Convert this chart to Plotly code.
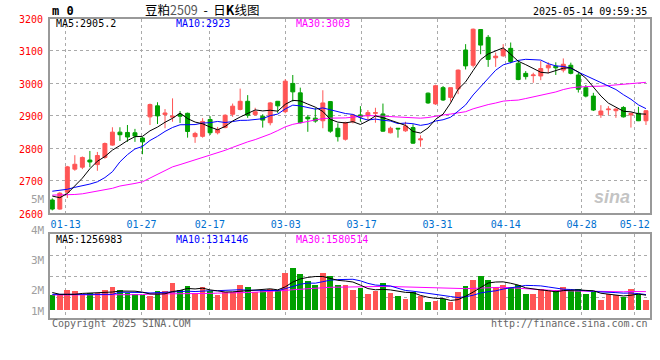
import plotly.graph_objects as go
import pandas as pd

# ---------------- data ----------------
dates = ["01-09", "01-10", "01-13", "01-14", "01-15", "01-16", "01-17", "01-20", "01-21", "01-22",
         "01-23", "01-24", "01-27", "02-05", "02-06", "02-07", "02-10", "02-11", "02-12", "02-13",
         "02-14", "02-17", "02-18", "02-19", "02-20", "02-21", "02-24", "02-25", "02-26", "02-27",
         "02-28", "03-03", "03-04", "03-05", "03-06", "03-07", "03-10", "03-11", "03-12", "03-13",
         "03-14", "03-17", "03-18", "03-19", "03-20", "03-21", "03-24", "03-25", "03-26", "03-27",
         "03-28", "03-31", "04-01", "04-02", "04-03", "04-07", "04-08", "04-09", "04-10", "04-11",
         "04-14", "04-15", "04-16", "04-17", "04-18", "04-21", "04-22", "04-23", "04-24", "04-25",
         "04-28", "04-29", "04-30", "05-06", "05-07", "05-08", "05-09", "05-12", "05-13", "05-14"]

opens = [2641, 2613, 2665, 2736, 2742, 2764, 2750, 2772, 2810, 2850,
         2849, 2848, 2832, 2897, 2931, 2904, 2896, 2905, 2908, 2836,
         2837, 2889, 2848, 2864, 2905, 2920, 2945, 2904, 2899, 2879,
         2945, 2913, 3000, 2971, 2896, 2893, 2885, 2944, 2862, 2828,
         2882, 2903, 2900, 2908, 2906, 2848, 2862, 2854, 2864, 2826,
         2970, 2937, 2987, 2957, 2983, 3103, 3056, 3166, 3142, 3079,
         3085, 3108, 3062, 3031, 3024, 3023, 3048, 3053, 3041, 3056,
         3026, 2987, 2961, 2903, 2919, 2916, 2926, 2903, 2908, 2885]
highs = [2646, 2665, 2746, 2779, 2775, 2792, 2789, 2818, 2865, 2865,
         2872, 2860, 2835, 2938, 2942, 2921, 2954, 2915, 2910, 2851,
         2893, 2899, 2866, 2905, 2938, 2984, 2964, 2925, 2905, 2943,
         2946, 3013, 3026, 2987, 2903, 2925, 2979, 2946, 2877, 2882,
         2905, 2930, 2918, 2925, 2938, 2867, 2862, 2882, 2874, 2840,
         2972, 2996, 2992, 2987, 3043, 3121, 3169, 3167, 3149, 3095,
         3121, 3126, 3072, 3038, 3033, 3069, 3065, 3065, 3077, 3064,
         3034, 2995, 2971, 2933, 2930, 2923, 2930, 2910, 2928, 2918]
lows = [2609, 2611, 2647, 2731, 2736, 2742, 2731, 2768, 2808, 2823,
        2820, 2820, 2782, 2872, 2875, 2862, 2882, 2878, 2833, 2817,
        2833, 2841, 2843, 2862, 2897, 2917, 2894, 2900, 2864, 2871,
        2909, 2908, 2944, 2877, 2851, 2879, 2862, 2848, 2821, 2824,
        2877, 2882, 2887, 2879, 2851, 2846, 2833, 2851, 2814, 2805,
        2937, 2934, 2946, 2944, 2967, 3043, 3049, 3090, 3051, 3051,
        3082, 3062, 3010, 3012, 3002, 3010, 3031, 3026, 3034, 3028,
        2972, 2957, 2915, 2894, 2903, 2894, 2895, 2864, 2884, 2872]
closes = [2613, 2662, 2743, 2751, 2772, 2758, 2778, 2815, 2850, 2842,
          2835, 2838, 2820, 2935, 2900, 2909, 2899, 2899, 2852, 2846,
          2883, 2848, 2858, 2902, 2930, 2945, 2902, 2913, 2887, 2940,
          2931, 3007, 2974, 2879, 2891, 2884, 2940, 2853, 2836, 2879,
          2903, 2897, 2910, 2910, 2853, 2862, 2860, 2869, 2816, 2829,
          2940, 2993, 2949, 2987, 3041, 3054, 3167, 3118, 3074, 3084,
          3105, 3067, 3012, 3021, 3026, 3046, 3056, 3048, 3059, 3031,
          2982, 2961, 2918, 2915, 2921, 2921, 2897, 2908, 2885, 2916]

# volume, in millions as read against the panel's scale labels
volumes = [1.86, 1.86, 2.00, 1.97, 1.86, 1.91, 1.91, 2.00, 2.10, 2.02,
           1.91, 1.89, 1.84, 1.80, 1.99, 1.97, 2.26, 2.02, 2.13, 1.91,
           2.10, 1.97, 1.86, 1.94, 1.94, 2.19, 2.10, 1.94, 2.02, 2.06,
           2.02, 2.59, 2.73, 2.55, 2.30, 2.17, 2.59, 2.46, 2.19, 2.19,
           2.00, 2.08, 1.89, 1.99, 2.26, 1.91, 1.83, 1.73, 1.95, 1.80,
           1.61, 1.64, 1.72, 1.62, 1.94, 2.16, 2.33, 2.49, 2.35, 2.10,
           2.19, 2.10, 2.19, 1.89, 1.89, 2.06, 1.97, 2.00, 2.10, 2.00,
           2.06, 1.89, 1.94, 1.69, 1.88, 1.84, 1.78, 2.06, 1.89, 1.69]

# moving-average values at the start of the window (need earlier history)
ma5_head = [2653, 2648, 2661, 2684]
ma10_head = [2668, 2670, 2674, 2680, 2684, 2690, 2697, 2710, 2728]
ma30_head = [2656, 2656, 2657, 2658, 2660, 2664, 2668, 2672, 2677, 2684,
             2687, 2692, 2697, 2708, 2720, 2730, 2743, 2750, 2757, 2765,
             2772, 2779, 2786, 2794, 2803, 2812, 2820, 2827, 2835]
vma5_head = [1.94, 1.88, 1.88, 1.88]
vma10_head = [1.88, 1.88, 1.88, 1.88, 1.88, 1.88, 1.88, 1.88, 1.88]
vma30_head = [1.86, 1.86, 1.86, 1.86, 1.86, 1.86, 1.86, 1.87, 1.87, 1.87,
              1.87, 1.87, 1.87, 1.89, 1.89, 1.89, 1.89, 1.89, 1.89, 1.89,
              1.91, 1.91, 1.92, 1.92, 1.93, 1.93, 1.94, 1.95, 1.96]

tick_dates = ["01-13", "01-27", "02-17", "03-03", "03-17", "03-31", "04-14", "04-28", "05-12"]
price_ticks = [2600, 2700, 2800, 2900, 3000, 3100, 3200]
vol_labels = ["5M", "4M", "3M", "2M", "1M"]
vol_label_values = [5, 4, 3, 2, 1]

legend_price = ["MA5:2905.2", "MA10:2923", "MA30:3003"]
legend_vol = ["MA5:1256983", "MA10:1314146", "MA30:1580514"]

# ---------------- styles ----------------
RED = "#ff5555"
GREEN = "#00a000"
BLUE = "#0000ff"
MAGENTA = "#ff00ff"
GRID = "#aaaaaa"
BORDER = "#999999"
MONO = "DejaVu Sans Mono"
W, H = 660, 360


def px(x):
    return x / W


def py(y):
    return 1 - y / H


def moving_average(values, window, head):
    s = pd.Series(values, dtype=float).rolling(window).mean()
    s.iloc[:len(head)] = head
    return s


idx = list(range(len(dates)))
ma5 = moving_average(closes, 5, ma5_head)
ma10 = moving_average(closes, 10, ma10_head)
ma30 = moving_average(closes, 30, ma30_head)
vma5 = moving_average(volumes, 5, vma5_head)
vma10 = moving_average(volumes, 10, vma10_head)
vma30 = moving_average(volumes, 30, vma30_head)

# the chart's date grid runs on a slightly wider step than the candles
tick_pos = [dates.index(d) * 1.0097 - 0.24 for d in tick_dates]

x_range = [-0.306, 79.47]
main_dom = [py(213.3), py(18.5)]
vol_dom = [py(318), py(234.3)]
vol_range = [1.099, 3.861]
vol_base = 1.34
vol_grid = [vol_range[0] + (vol_range[1] - vol_range[0]) * k / 4 for k in (1, 2, 3)]

fig = go.Figure()

fig.add_trace(go.Candlestick(
    x=idx, open=opens, high=highs, low=lows, close=closes,
    increasing=dict(line=dict(color=RED, width=1), fillcolor=RED),
    decreasing=dict(line=dict(color=GREEN, width=1), fillcolor=GREEN),
    whiskerwidth=0, xaxis="x", yaxis="y", showlegend=False, hoverinfo="skip"))

for series, color in ((ma30, MAGENTA), (ma10, BLUE), (ma5, "black")):
    fig.add_trace(go.Scatter(x=idx, y=series, mode="lines", line=dict(color=color, width=1),
                             xaxis="x", yaxis="y", showlegend=False, hoverinfo="skip"))

bar_colors = [RED if c >= o else GREEN for o, c in zip(opens, closes)]
fig.add_trace(go.Bar(x=idx, y=[v - vol_base for v in volumes], base=vol_base,
                     marker=dict(color=bar_colors, line=dict(width=0)), width=0.76,
                     xaxis="x2", yaxis="y2", showlegend=False, hoverinfo="skip"))
for series, color in ((vma30, MAGENTA), (vma10, BLUE), (vma5, "black")):
    fig.add_trace(go.Scatter(x=idx, y=series, mode="lines", line=dict(color=color, width=1),
                             xaxis="x2", yaxis="y2", showlegend=False, hoverinfo="skip"))

axis_common = dict(showgrid=True, gridcolor=GRID, griddash="dot", gridwidth=1,
                   showline=True, linecolor=BORDER, linewidth=2, mirror=True,
                   zeroline=False, ticks="", fixedrange=True, automargin=False)

fig.update_layout(
    width=W, height=H, margin=dict(l=0, r=0, t=0, b=0),
    paper_bgcolor="white", plot_bgcolor="white", bargap=0, boxgap=0.25,
    xaxis=dict(domain=[px(50), px(649.5)], range=x_range, anchor="y",
               tickmode="array", tickvals=tick_pos, ticktext=tick_dates,
               tickfont=dict(family=MONO, size=10, color="#0070d0"),
               rangeslider=dict(visible=False), ticklabelstandoff=1, **axis_common),
    yaxis=dict(domain=main_dom, range=[2600, 3200], anchor="x",
               tickmode="array", tickvals=price_ticks,
               tickfont=dict(family=MONO, size=10, color="#ff0000"),
               ticklabelstandoff=3, ticklabelshift=1, **axis_common),
    xaxis2=dict(domain=[px(50), px(649.5)], range=x_range, anchor="y2",
                tickmode="array", tickvals=tick_pos, showticklabels=False, **axis_common),
    yaxis2=dict(domain=vol_dom, range=vol_range, anchor="x2",
                tickmode="array", tickvals=vol_grid, showticklabels=False, **axis_common),
)

ann = []


def text(x, y, s, color="black", size=10, xanchor="left", family=MONO):
    ann.append(dict(x=px(x), y=py(y), xref="paper", yref="paper", text=s, showarrow=False,
                    xanchor=xanchor, yanchor="middle", font=dict(family=family, size=size, color=color)))


text(50.5, 10.5, "<b>m 0</b>", size=12)
text(201.5, 9.5, "豆粕<span style='color:#555'>2509</span>&nbsp;&nbsp;-&nbsp;&nbsp;日<b>K</b>线图", size=12.5,
     xanchor="center", family="Noto Sans CJK SC")
text(649, 11.5, "2025-05-14 09:59:35", xanchor="right", size=10)

for s, xpos, color in zip(legend_price, (54, 174, 294), ("black", BLUE, MAGENTA)):
    text(xpos, 24, s, color=color)
for s, xpos, color in zip(legend_vol, (54, 174, 294), ("black", BLUE, MAGENTA)):
    text(xpos, 239, s, color=color)

# volume scale labels placed through the volume axis scale (1M is clamped at the bar base)
vol_px_per_unit = (318 - 234.3) / (vol_range[1] - vol_range[0])
for lab, v in zip(vol_labels, vol_label_values):
    ypix = 318 - (v - vol_range[0]) * vol_px_per_unit
    ypix = min(ypix, 311.7)
    text(46.5, ypix, lab, color="#a0a0a0", xanchor="right", size=11)

text(50, 323.5, "Copyright 2025 SINA.COM", color="#666666")
text(649.5, 323.5, "http://finance.sina.com.cn", color="#666666", xanchor="right")

# sina watermark
text(612, 197, "<i><b>sina</b></i>", color="rgba(170,170,170,0.7)", size=18,
     xanchor="center", family="Liberation Sans")

fig.update_layout(annotations=ann)
fig.write_html("out.html", config={"displayModeBar": False},
               post_script="document.body.style.margin='0px';")
